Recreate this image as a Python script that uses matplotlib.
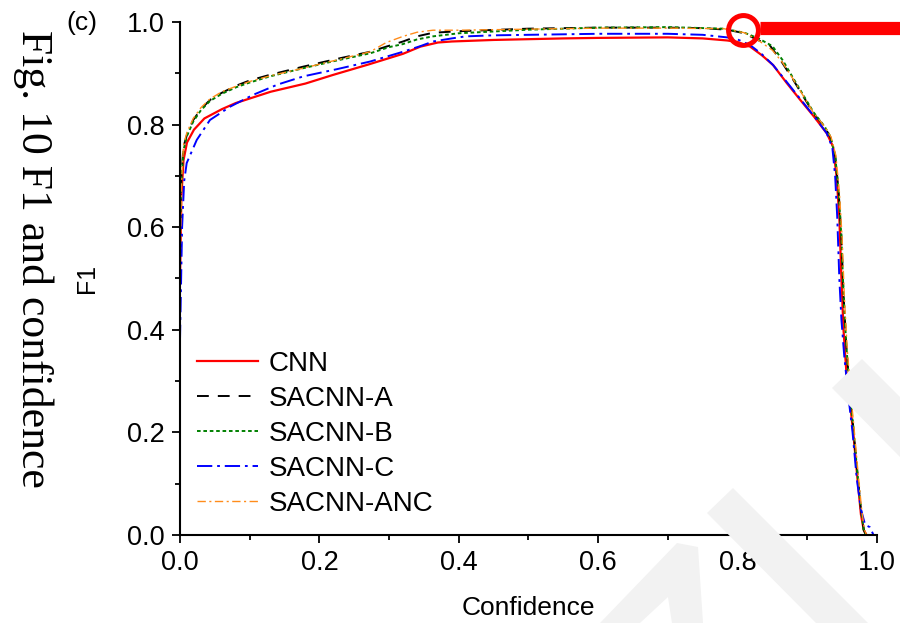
import matplotlib
matplotlib.use('Agg')
import matplotlib.pyplot as plt
from matplotlib.patches import Polygon

plt.rcParams['font.family'] = ['Liberation Sans', 'DejaVu Sans']
plt.rcParams['lines.scale_dashes'] = False

# --- datos ---
cnn_x = [0.0, 0.002, 0.005, 0.01, 0.02, 0.035, 0.06, 0.08, 0.13, 0.18, 0.22, 0.27, 0.32, 0.345, 0.37, 0.39,
         0.45, 0.55, 0.6, 0.7, 0.75, 0.785, 0.80, 0.818, 0.835, 0.851, 0.87, 0.89, 0.91, 0.928, 0.937,
         0.942, 0.946, 0.949, 0.952, 0.956, 0.961, 0.966, 0.972, 0.977, 0.981, 0.985]
cnn_y = [0.50, 0.66, 0.73, 0.765, 0.79, 0.812, 0.83, 0.842, 0.864, 0.88, 0.897, 0.917, 0.938, 0.952, 0.96, 0.962,
         0.965, 0.968, 0.969, 0.97, 0.968, 0.964, 0.961, 0.952, 0.935, 0.916, 0.882, 0.848, 0.815, 0.783, 0.757,
         0.70, 0.62, 0.50, 0.40, 0.32, 0.26, 0.20, 0.11, 0.04, 0.01, 0.0]

a_x = [0.0, 0.002, 0.005, 0.01, 0.019, 0.03, 0.043, 0.06, 0.081, 0.1, 0.129, 0.177, 0.225, 0.273, 0.296, 0.32,
       0.34, 0.363, 0.4, 0.5, 0.6, 0.7, 0.75, 0.785, 0.81, 0.827, 0.846, 0.862, 0.88, 0.909, 0.925, 0.933,
       0.94, 0.945, 0.949, 0.952, 0.956, 0.961, 0.966, 0.972, 0.977, 0.981, 0.984]
a_y = [0.60, 0.70, 0.757, 0.78, 0.809, 0.83, 0.848, 0.862, 0.876, 0.886, 0.897, 0.913, 0.928, 0.942, 0.952, 0.962,
       0.972, 0.979, 0.982, 0.987, 0.989, 0.989, 0.988, 0.985, 0.978, 0.966, 0.955, 0.925, 0.887, 0.822, 0.795, 0.776,
       0.74, 0.67, 0.58, 0.47, 0.37, 0.28, 0.21, 0.12, 0.05, 0.01, 0.0]

b_x = [0.0, 0.002, 0.005, 0.01, 0.019, 0.03, 0.043, 0.06, 0.081, 0.1, 0.129, 0.177, 0.225, 0.273, 0.3, 0.32,
       0.34, 0.363, 0.4, 0.5, 0.6, 0.7, 0.78, 0.81, 0.83, 0.85, 0.865, 0.88, 0.909, 0.925, 0.933,
       0.94, 0.945, 0.949, 0.952, 0.956, 0.961, 0.966, 0.972, 0.977, 0.981, 0.984]
b_y = [0.58, 0.69, 0.75, 0.778, 0.806, 0.828, 0.846, 0.86, 0.873, 0.882, 0.894, 0.91, 0.925, 0.939, 0.951, 0.957,
       0.966, 0.972, 0.978, 0.985, 0.989, 0.99, 0.987, 0.979, 0.968, 0.953, 0.925, 0.89, 0.824, 0.796, 0.777,
       0.74, 0.67, 0.58, 0.47, 0.37, 0.28, 0.21, 0.12, 0.05, 0.01, 0.0]

c_x = [0.0, 0.003, 0.006, 0.0096, 0.024, 0.043, 0.072, 0.105, 0.14, 0.177, 0.225, 0.273, 0.32, 0.345, 0.363,
       0.39, 0.41, 0.45, 0.55, 0.6, 0.7, 0.75, 0.785, 0.80, 0.818, 0.835, 0.851, 0.87, 0.89, 0.91, 0.928,
       0.936, 0.94, 0.943, 0.946, 0.949, 0.953, 0.959, 0.965, 0.971, 0.977, 0.983, 0.99, 0.995]
c_y = [0.38, 0.60, 0.69, 0.725, 0.77, 0.809, 0.835, 0.858, 0.878, 0.894, 0.908, 0.923, 0.942, 0.953, 0.962,
       0.968, 0.972, 0.974, 0.976, 0.977, 0.977, 0.975, 0.970, 0.966, 0.955, 0.937, 0.916, 0.884, 0.85, 0.816, 0.783,
       0.755, 0.70, 0.62, 0.50, 0.42, 0.35, 0.27, 0.20, 0.11, 0.05, 0.02, 0.015, 0.0]

anc_x = [0.0, 0.002, 0.005, 0.01, 0.019, 0.03, 0.043, 0.06, 0.081, 0.1, 0.129, 0.177, 0.225, 0.273, 0.296, 0.32,
         0.34, 0.363, 0.4, 0.5, 0.6, 0.7, 0.78, 0.81, 0.83, 0.85, 0.865, 0.88, 0.909, 0.925, 0.934,
         0.941, 0.946, 0.95, 0.953, 0.957, 0.962, 0.967, 0.973, 0.978, 0.982, 0.985]
anc_y = [0.50, 0.68, 0.76, 0.785, 0.812, 0.833, 0.85, 0.864, 0.875, 0.884, 0.895, 0.91, 0.926, 0.942, 0.96, 0.972,
         0.98, 0.984, 0.984, 0.986, 0.988, 0.988, 0.987, 0.979, 0.964, 0.945, 0.92, 0.888, 0.823, 0.796, 0.776,
         0.74, 0.67, 0.58, 0.47, 0.37, 0.28, 0.21, 0.12, 0.05, 0.01, 0.0]

etiquetas = ['CNN', 'SACNN-A', 'SACNN-B', 'SACNN-C', 'SACNN-ANC']
colores = ['#FF0000', '#000000', '#008000', '#0000FF', '#FF8C1A']
estilos = [(None, 1.6), ((0, (8.5, 6.5)), 1.4), ((0, (2.6, 2.0)), 1.4), ((0, (11, 3.5, 2, 3.5)), 1.4),
           ((0, (6, 2.5, 1.5, 2.5)), 1.0)]
series = [(cnn_x, cnn_y), (a_x, a_y), (b_x, b_y), (c_x, c_y), (anc_x, anc_y)]

# punto resaltado (circulo rojo)
marca_x = 0.808
marca_y = 0.984

# marca de agua (pixeles de la imagen)
agua = [
    [(832, 388), (862, 359), (900, 397), (900, 457)],
    [(707, 513), (733, 488), (868, 623), (816, 623)],
    [(600, 623), (677, 543), (698, 547), (703, 623), (672, 623), (668, 597), (640, 623)],
]

fig = plt.figure(figsize=(9, 6.23), dpi=100)
for poly in agua:
    pts = [(px / 900, 1 - py / 623) for px, py in poly]
    fig.patches.append(Polygon(pts, closed=True, transform=fig.transFigure,
                               facecolor='#f2f2f2', edgecolor='none', zorder=0))

ax = fig.add_axes([0.2, 0.1413, 0.7744, 0.8234])
ax.patch.set_alpha(0)

for (x, y), lab, col, (ls, lw) in zip(series, etiquetas, colores, estilos):
    if ls is None:
        ax.plot(x, y, color=col, lw=lw, label=lab)
    else:
        ax.plot(x, y, color=col, lw=lw, linestyle=ls, label=lab)

ax.set_xlim(0, 1)
ax.set_ylim(0, 1)
ax.spines['top'].set_visible(False)
ax.spines['right'].set_visible(False)
ax.spines['left'].set_linewidth(1.5)
ax.spines['bottom'].set_linewidth(1.5)
ax.set_xticks([0, 0.2, 0.4, 0.6, 0.8, 1.0])
ax.set_yticks([0, 0.2, 0.4, 0.6, 0.8, 1.0])
ax.set_xticks([0.1, 0.3, 0.5, 0.7, 0.9], minor=True)
ax.set_yticks([0.1, 0.3, 0.5, 0.7, 0.9], minor=True)
ax.set_xticklabels(['0.0', '0.2', '0.4', '0.6', '0.8', '1.0'])
ax.set_yticklabels(['0.0', '0.2', '0.4', '0.6', '0.8', '1.0'])
ax.tick_params(which='major', direction='out', length=6, width=1.3, labelsize=19.5, pad=5)
ax.tick_params(which='minor', direction='out', length=3.5, width=1.3)

ax.set_xlabel('Confidence', fontsize=19, labelpad=14)
ax.set_ylabel('F1', fontsize=18, labelpad=20)

ax.legend(loc='upper left', bbox_to_anchor=(0.0, 0.392), frameon=False, fontsize=20,
          handlelength=2.2, handletextpad=0.4, labelspacing=0.33, borderaxespad=0.2)

# circulo rojo y barra
ax.plot([marca_x], [marca_y], marker='o', markersize=21.5, markerfacecolor='none',
        markeredgecolor='#FF0000', markeredgewidth=3.6, clip_on=False, zorder=5)
ax.plot([marca_x + 0.024, 1.04], [marca_y + 0.004, marca_y + 0.004], color='#FF0000', lw=9.5,
        solid_capstyle='butt', clip_on=False, zorder=5)

fig.text(0.074, 0.963, '(c)', fontsize=19, ha='left', va='center')
fig.text(0.037, 0.585, 'Fig. 10 F1 and confidence', rotation=-90, fontsize=31.5,
         family=['Liberation Serif', 'DejaVu Serif'], ha='center', va='center')

fig.savefig('out.png', dpi=100)
